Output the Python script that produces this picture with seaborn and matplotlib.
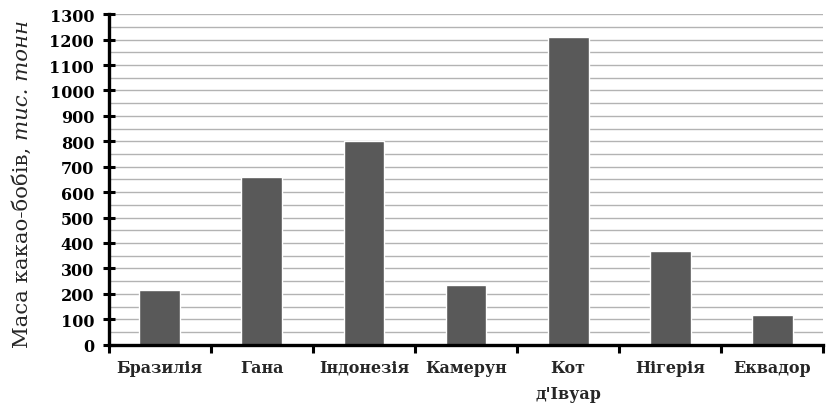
import numpy as np
import pandas as pd
import matplotlib
matplotlib.use("Agg")
import matplotlib.pyplot as plt
import seaborn as sns
from matplotlib.ticker import MultipleLocator

# Дані: маса какао-бобів, тис. тонн
krainy = ["Бразилія", "Гана", "Індонезія", "Камерун", "Кот\nд'Івуар", "Нігерія", "Еквадор"]
masa = [215, 660, 800, 235, 1210, 370, 118]

df = pd.DataFrame({"krayina": krainy, "masa": masa})

sns.set_theme(style="white")
plt.rcParams["font.family"] = ["DejaVu Serif"]

fig, ax = plt.subplots(figsize=(8.3, 4.1), dpi=100)
fig.subplots_adjust(left=0.131, right=0.992, top=0.963, bottom=0.157)

sns.barplot(data=df, x="krayina", y="masa", color="#595959", width=0.4,
            saturation=1, ax=ax, zorder=3)

# осі
ax.set_ylim(0, 1300)
ax.set_xlim(-0.5, len(krainy) - 0.5)
ax.yaxis.set_major_locator(MultipleLocator(100))
ax.yaxis.set_minor_locator(MultipleLocator(50))
ax.grid(axis="y", which="both", color="#b3b3b3", linewidth=1.0, zorder=0)
ax.set_axisbelow(True)

for s in ["top", "right"]:
    ax.spines[s].set_visible(False)
for s in ["left", "bottom"]:
    ax.spines[s].set_linewidth(2.4)
    ax.spines[s].set_color("black")
    ax.spines[s].set_zorder(5)

ax.tick_params(axis="y", which="major", direction="inout", length=9, width=2.2,
               labelsize=11.5, pad=6, left=True, colors="black")
ax.tick_params(axis="y", which="minor", length=0)
for lab in ax.get_yticklabels():
    lab.set_fontweight("bold")

# мітки категорій між стовпчиками
ax.set_xticks(np.arange(-0.5, len(krainy), 1.0), minor=True)
ax.tick_params(axis="x", which="minor", direction="out", length=6, width=2.2,
               bottom=True, colors="black")
ax.tick_params(axis="x", which="major", length=0, pad=10, labelsize=11.5)
for lab in ax.get_xticklabels():
    lab.set_fontweight("bold")
    lab.set_linespacing(1.7)

ax.set_xlabel("")
ax.set_ylabel("")

# підпис осі y: звичайний + курсив
fig.canvas.draw()
r = fig.canvas.get_renderer()
t1 = fig.text(0.027, 0.152, "Маса какао-бобів, ", rotation=90, fontsize=15.3,
              ha="center", va="bottom")
fig.canvas.draw()
bb = t1.get_window_extent(renderer=r)
y2 = bb.y1 / fig.bbox.height
fig.text(0.027, y2, "тис. тонн", rotation=90, fontsize=15.3, style="italic",
         ha="center", va="bottom")

plt.savefig("out.png", dpi=100)
